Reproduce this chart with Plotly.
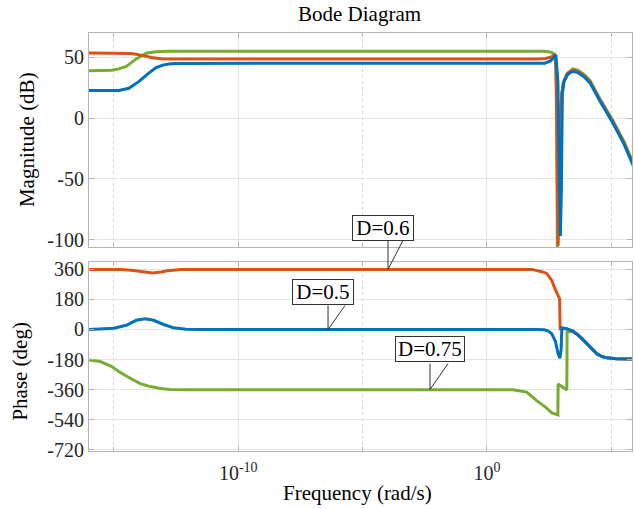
import plotly.graph_objects as go
from plotly.subplots import make_subplots

# ---------------- data (log10 of frequency in rad/s, values) ----------------
# Magnitude (dB)
mag_blue_exp = [-16, -14.8, -14.4, -14.0, -13.6, -13.3, -13.0, -12.7, -12.3, -11.5, 2.33, 2.55, 2.68, 2.77,
                2.85, 2.9, 2.95, 2.99, 3.03, 3.1, 3.25, 3.45, 3.65, 3.9, 4.14, 4.54, 5.06, 5.5, 5.9]
mag_blue_db = [22.8, 22.8, 24.5, 30, 37, 41.5, 43.8, 44.7, 45, 45, 45.2, 47, 50, 52,
               30, -30, -97, -60, 20, 30, 36, 38.5, 37.5, 34, 29, 14, -4, -21, -40]

mag_orange_exp = [-16, -14.7, -14.3, -13.9, -13.5, -13.1, -12.6, 2.0, 2.35, 2.55, 2.72, 2.78, 2.82, 2.86,
                  2.92, 3.0, 3.08, 3.25, 3.45, 3.65, 3.9, 4.14, 4.54, 5.06, 5.5, 5.9]
mag_orange_db = [53.6, 53.6, 53.2, 51.8, 49.8, 48.8, 48.6, 48.6, 49, 50, 52, 40, -20, -105,
                 -40, 20, 30, 37, 39.5, 38.5, 35, 30, 15, -3, -20, -39]

mag_green_exp = [-16, -15.1, -14.8, -14.5, -14.1, -13.7, -13.3, -12.8, 2.2, 2.5, 2.65, 2.75, 2.79, 2.81,
                 2.83, 2.98, 3.05, 3.2, 3.45, 3.65, 3.9, 4.14, 4.54, 5.06, 5.5, 5.9]
mag_green_db = [39, 39.3, 40.5, 42.5, 48.7, 53.3, 54.6, 54.9, 54.9, 54.5, 53.5, 50, 20, -110,
                -110, 10, 28, 36, 40.5, 39.5, 36, 31, 16, -2, -19, -38]

# Phase (deg)
ph_blue_exp = [-16, -15.5, -15.0, -14.5, -14.1, -13.75, -13.4, -13.0, -12.6, -12.1, -11.5, 2.0, 2.3, 2.45,
               2.6, 2.75, 2.85, 2.93, 2.98, 3.01, 3.2, 3.45, 3.61, 3.82, 4.02, 4.22, 4.42, 4.62, 4.82,
               5.2, 5.9]
ph_blue_deg = [0, 2, 8, 25, 55, 64, 55, 30, 10, 1, 0, 0, -2, -8,
               -25, -70, -140, -172, -120, 10, 5, -10, -27, -55, -86, -118, -146, -162, -170,
               -175, -177]

ph_orange_exp = [-16, -14.7, -14.2, -13.8, -13.45, -13.1, -12.85, -12.3, -11.5, 1.8, 2.01, 2.25, 2.41,
                 2.61, 2.73, 2.85, 2.92, 2.94, 3.2, 3.45, 3.61, 3.82, 4.02, 4.22, 4.42, 4.62, 4.82,
                 5.2, 5.9]
ph_orange_deg = [360, 359, 354, 343, 338, 345, 352, 359, 360, 360, 352, 345, 334,
                 292, 244, 202, 184, 5, 5, -10, -27, -55, -86, -118, -146, -162, -170,
                 -175, -177]

ph_green_exp = [-16, -15.55, -15.14, -14.74, -14.34, -13.94, -13.53, -13.13, -12.73, -12.05, 1.04, 1.6,
                2.01, 2.35, 2.61, 2.85, 2.86, 3.21, 3.22, 3.45, 3.61, 3.82, 4.02, 4.22, 4.42, 4.62,
                4.82, 5.2, 5.9]
ph_green_deg = [-182, -192, -218, -258, -292, -324, -342, -354, -360, -361, -361, -375,
                -428, -465, -500, -512, -327, -363, -15, -10, -27, -55, -86, -118, -146, -162,
                -170, -175, -177]

x_major_exps = [-10, 0]
x_major_text = ["10<sup>-10</sup>", "10<sup>0</sup>"]
x_minor_exps = [-15, -5, 5]
mag_ticks = [-100, -50, 0, 50]
ph_ticks = [-720, -540, -360, -180, 0, 180, 360]

labels = ["D=0.5", "D=0.6", "D=0.75"]
label_exps = [-6.39, -3.98, -2.29]
label_vals = [0, 360, -360]

BLUE, ORANGE, GREEN = "#0072BD", "#D95319", "#77AC30"
FONT = "Liberation Serif"

XR = [-16, 5.83]
YR1 = [-106, 70]
YR2 = [-728, 404]
DOM1 = [0.488, 1]
DOM2 = [0, 0.452]


def f(exps):
    return [10 ** e for e in exps]


fig = make_subplots(rows=2, cols=1, shared_xaxes=False, vertical_spacing=0.036)

for ex, val, col in [(mag_green_exp, mag_green_db, GREEN),
                     (mag_orange_exp, mag_orange_db, ORANGE),
                     (mag_blue_exp, mag_blue_db, BLUE)]:
    fig.add_trace(go.Scatter(x=f(ex), y=val, mode="lines", line=dict(color=col, width=3),
                             showlegend=False), row=1, col=1)

for ex, val, col in [(ph_green_exp, ph_green_deg, GREEN),
                     (ph_orange_exp, ph_orange_deg, ORANGE),
                     (ph_blue_exp, ph_blue_deg, BLUE)]:
    fig.add_trace(go.Scatter(x=f(ex), y=val, mode="lines", line=dict(color=col, width=3),
                             showlegend=False), row=2, col=1)

AX_COL = "#b5b5b5"
axis_common = dict(showline=True, linecolor=AX_COL, linewidth=1, mirror="allticks",
                   ticks="inside", ticklen=5, tickcolor=AX_COL,
                   showgrid=True, gridcolor="#e4e4e4", zeroline=False,
                   tickfont=dict(family=FONT, size=20, color="#262626"))

xcommon = dict(axis_common, type="log", range=XR,
               tickvals=f(x_major_exps), ticktext=x_major_text, ticklabelstandoff=4,
               minor=dict(tickvals=f(x_minor_exps), showgrid=True, griddash="dot",
                          gridcolor="#d8d8d8", ticks="inside", ticklen=4, tickcolor=AX_COL))

fig.update_xaxes(xcommon, showticklabels=False, row=1, col=1)
fig.update_xaxes(xcommon, showticklabels=True, row=2, col=1)
fig.update_yaxes(axis_common, range=YR1, tickvals=mag_ticks,
                 ticktext=[str(v) for v in mag_ticks], row=1, col=1)
fig.update_yaxes(axis_common, range=YR2, tickvals=ph_ticks,
                 ticktext=[str(v) for v in ph_ticks], row=2, col=1)

fig.update_layout(
    width=634, height=509,
    margin=dict(l=89, r=2, t=33, b=58),
    paper_bgcolor="white", plot_bgcolor="white",
    font=dict(family=FONT, color="#000000"),
    xaxis=dict(domain=[0, 1]), xaxis2=dict(domain=[0, 1]),
    yaxis=dict(domain=DOM1), yaxis2=dict(domain=DOM2),
)

# titles
fig.add_annotation(text="Bode Diagram", xref="paper", yref="paper", x=0.499, y=1.0455,
                   showarrow=False, font=dict(family=FONT, size=21, color="#000"),
                   xanchor="center", yanchor="middle")
fig.add_annotation(text="Frequency (rad/s)", xref="paper", yref="paper", x=0.494, y=-0.1005,
                   showarrow=False, font=dict(family=FONT, size=21, color="#000"),
                   xanchor="center", yanchor="middle")
fig.add_annotation(text="Magnitude (dB)", xref="paper", yref="paper", x=-0.114, y=0.744,
                   textangle=-90, showarrow=False, font=dict(family=FONT, size=21, color="#000"),
                   xanchor="center", yanchor="middle")
fig.add_annotation(text="Phase (deg)", xref="paper", yref="paper", x=-0.127, y=0.19,
                   textangle=-90, showarrow=False, font=dict(family=FONT, size=21, color="#000"),
                   xanchor="center", yanchor="middle")


def px(ex):
    return (ex - XR[0]) / (XR[1] - XR[0])


def py2(v):
    return DOM2[0] + (v - YR2[0]) / (YR2[1] - YR2[0]) * (DOM2[1] - DOM2[0])


# callout labels: (xshift, yshift, line height, slant dx, box width)
callout = [(-5, 37, 24, 17, 58), (-5, 41, 29, 15, 58), (0, 41, 26, 18, 66)]
for lab, ex, val, (xs, ys, h, sl, w) in zip(labels, label_exps, label_vals, callout):
    fig.add_annotation(text=lab, x=ex, y=val, xref="x2", yref="y2", xshift=xs, yshift=ys,
                       showarrow=False, bgcolor="white", bordercolor="#333", borderwidth=1,
                       borderpad=1, width=w, height=22,
                       font=dict(family=FONT, size=21, color="#000"))
    for dx in (0, sl):
        fig.add_shape(type="line", xref="paper", yref="paper", xsizemode="pixel",
                      ysizemode="pixel", xanchor=px(ex), yanchor=py2(val),
                      x0=0, y0=0, x1=dx, y1=h, line=dict(color="#333", width=1))

fig.write_html("out.html", config={"displayModeBar": False},
               post_script="document.body.style.margin='0px';")
